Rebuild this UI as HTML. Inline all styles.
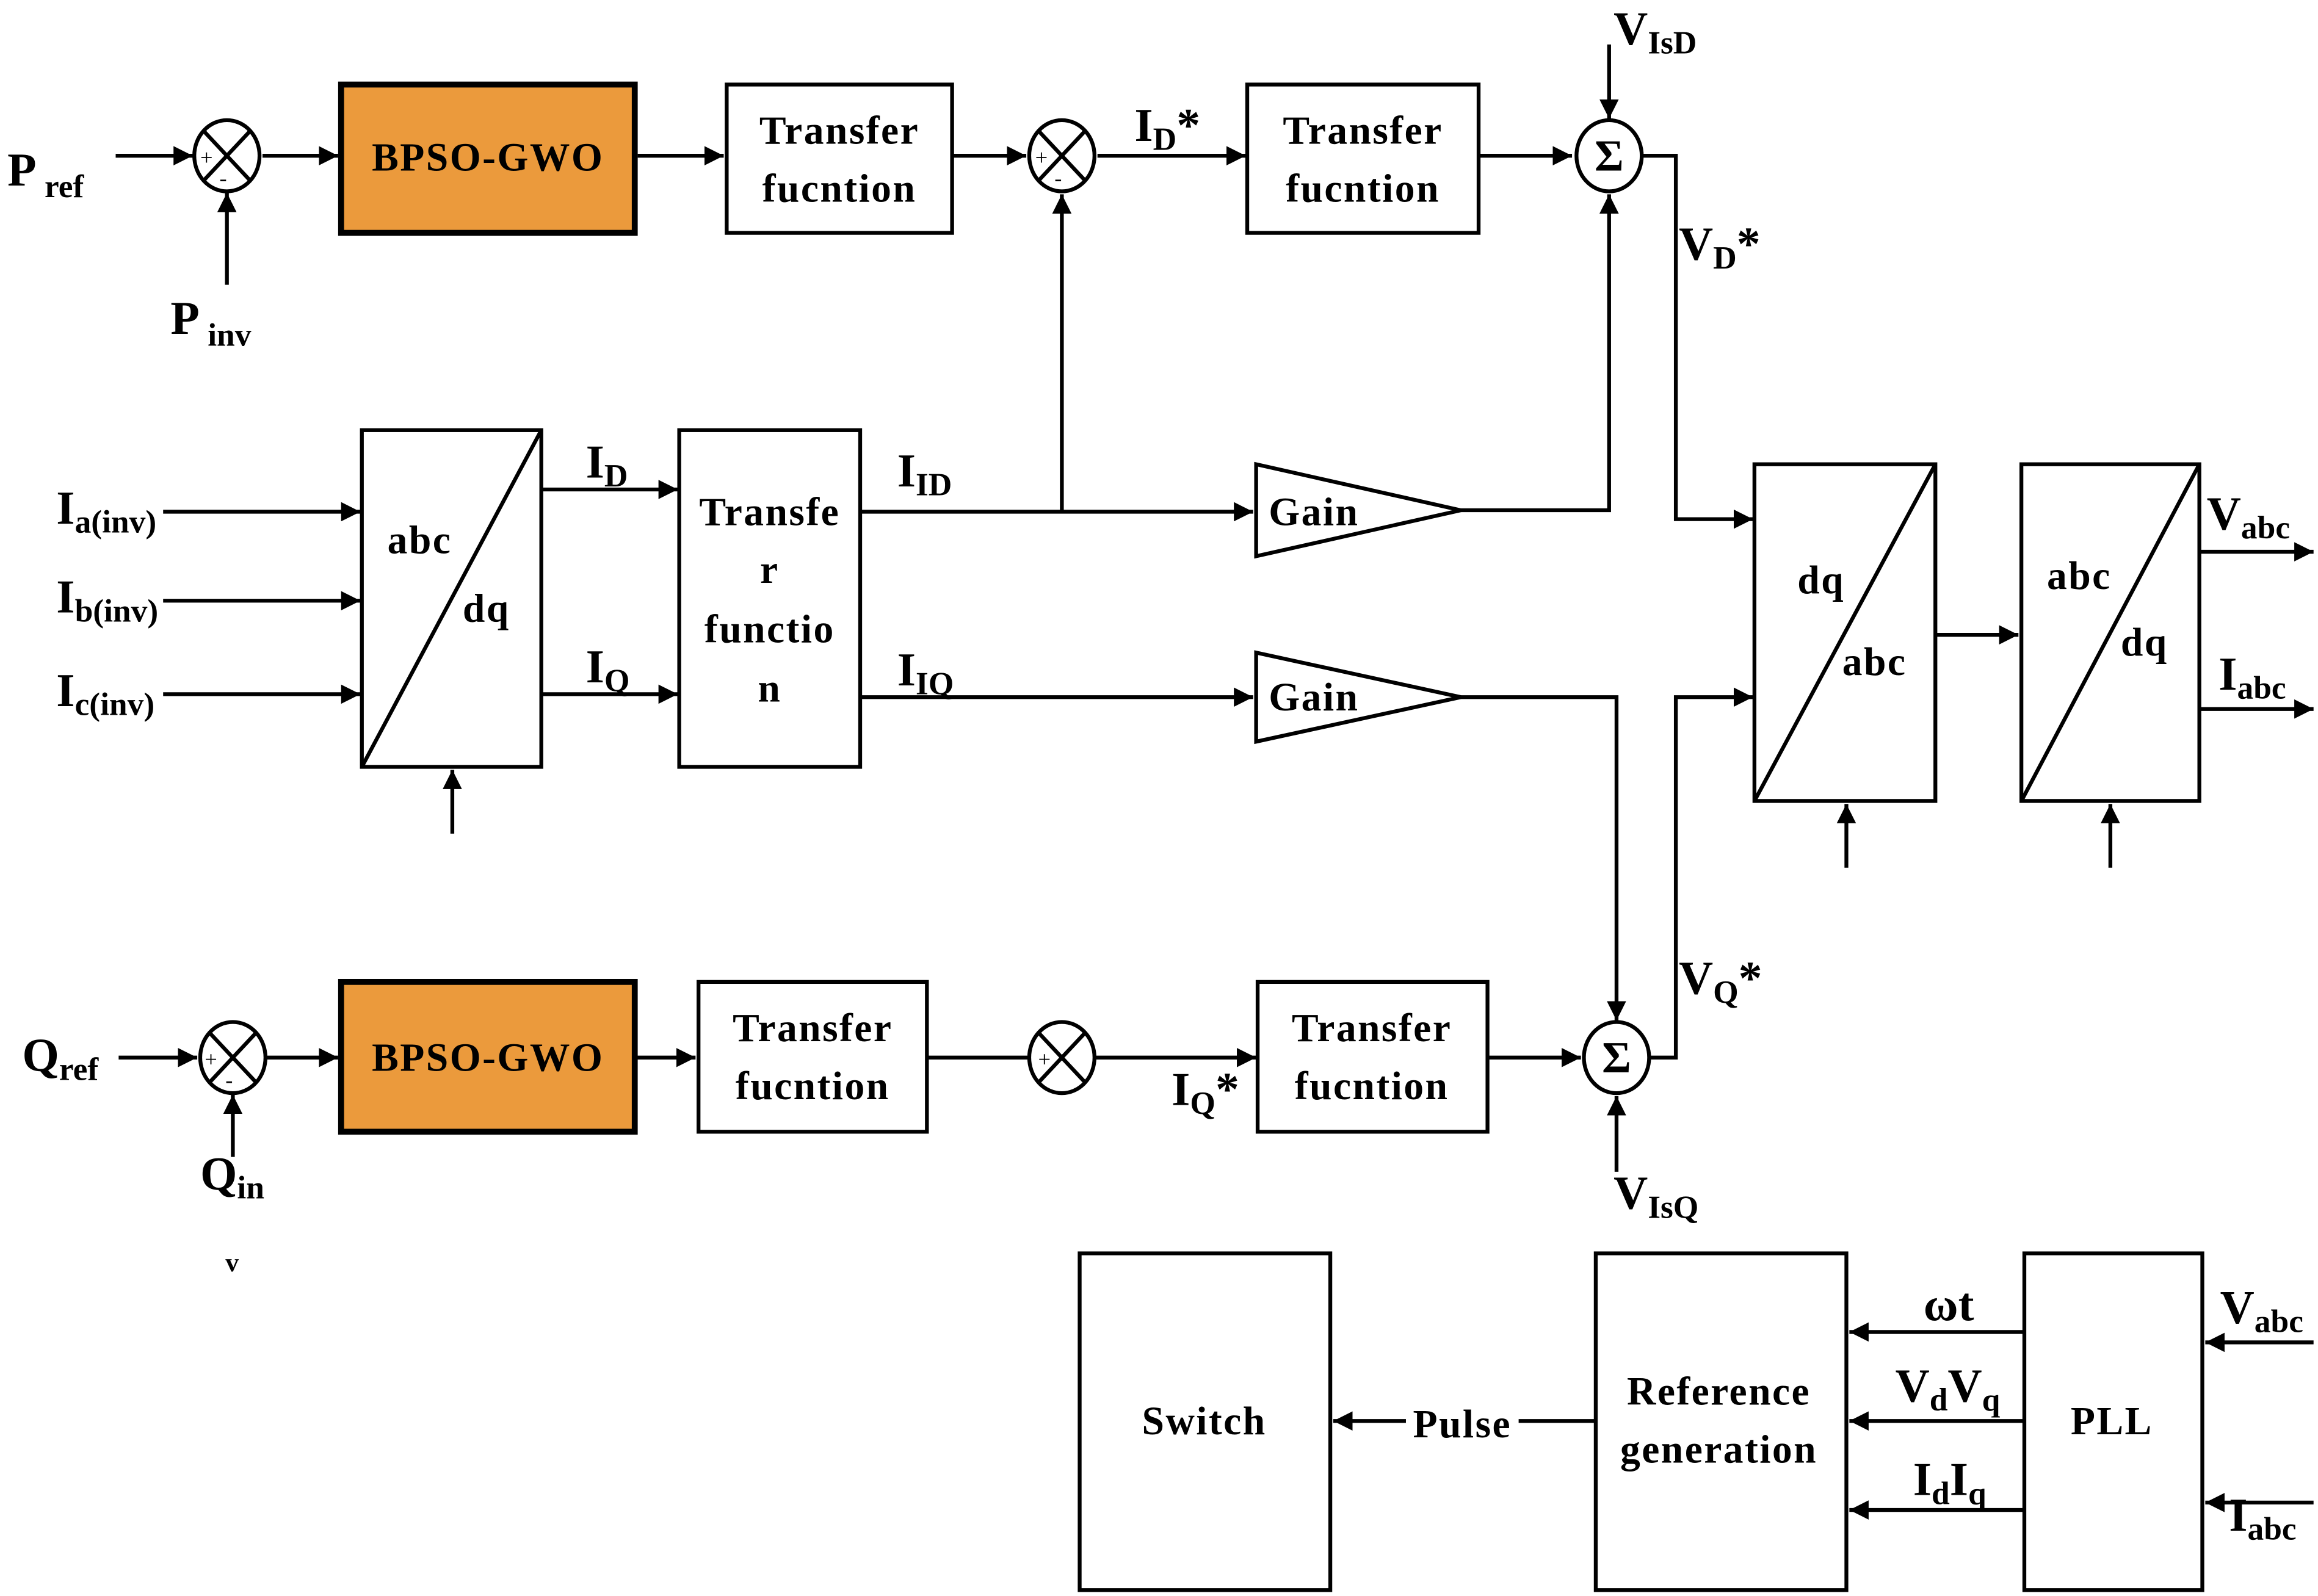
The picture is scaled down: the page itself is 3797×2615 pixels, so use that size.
<!DOCTYPE html>
<html><head><meta charset="utf-8"><style>html,body{margin:0;padding:0;background:#fff}svg{display:block}</style></head>
<body>
<svg width="3797" height="2615" viewBox="0 0 1563 1076" preserveAspectRatio="none" xmlns="http://www.w3.org/2000/svg" font-family="'Liberation Serif',serif" font-weight="bold">
<defs><marker id="a" viewBox="0 0 10 10" refX="10" refY="5" markerWidth="5" markerHeight="5" orient="auto"><path d="M0,0L10,5L0,10z" fill="#000"/></marker></defs>
<g stroke="#000" stroke-width="2.6" fill="none">
<line x1="78" y1="105" x2="130" y2="105" marker-end="url(#a)"/>
<ellipse cx="153" cy="105" rx="22" ry="24"/><path d="M138,89L168,121M168,89L138,121"/>
<line x1="153" y1="192" x2="153" y2="130" marker-end="url(#a)"/>
<line x1="177" y1="105" x2="228" y2="105" marker-end="url(#a)"/>
<rect x="230" y="57" width="198" height="100" fill="#EB9A3C" stroke-width="4"/>
<line x1="430" y1="105" x2="488" y2="105" marker-end="url(#a)"/>
<rect x="490" y="57" width="152" height="100"/>
<line x1="642" y1="105" x2="692" y2="105" marker-end="url(#a)"/>
<ellipse cx="716" cy="105" rx="22" ry="24"/><path d="M701,89L731,121M731,89L701,121"/>
<line x1="716" y1="345" x2="716" y2="131" marker-end="url(#a)"/>
<line x1="740" y1="105" x2="840" y2="105" marker-end="url(#a)"/>
<rect x="841" y="57" width="156" height="100"/>
<line x1="997" y1="105" x2="1060" y2="105" marker-end="url(#a)"/>
<ellipse cx="1085" cy="105" rx="22" ry="24"/>
<line x1="1085" y1="30" x2="1085" y2="80" marker-end="url(#a)"/>
<polyline points="985,344 1085,344 1085,131" marker-end="url(#a)"/>
<polyline points="1108,105 1130,105 1130,350 1182,350" marker-end="url(#a)"/>
<rect x="244" y="290" width="121" height="227"/><line x1="244" y1="517" x2="365" y2="290"/>
<line x1="110" y1="345" x2="243" y2="345" marker-end="url(#a)"/>
<line x1="110" y1="405" x2="243" y2="405" marker-end="url(#a)"/>
<line x1="110" y1="468" x2="243" y2="468" marker-end="url(#a)"/>
<line x1="305" y1="562" x2="305" y2="519" marker-end="url(#a)"/>
<line x1="365" y1="330" x2="457" y2="330" marker-end="url(#a)"/>
<line x1="365" y1="468" x2="457" y2="468" marker-end="url(#a)"/>
<rect x="458" y="290" width="122" height="227"/>
<line x1="580" y1="345" x2="845" y2="345" marker-end="url(#a)"/>
<line x1="580" y1="470" x2="845" y2="470" marker-end="url(#a)"/>
<polygon points="847,313 847,375 985,344"/>
<polygon points="847,440 847,500 985,470"/>
<polyline points="985,470 1090,470 1090,688" marker-end="url(#a)"/>
<rect x="1183" y="313" width="122" height="227"/><line x1="1183" y1="540" x2="1305" y2="313"/>
<line x1="1245" y1="585" x2="1245" y2="542" marker-end="url(#a)"/>
<line x1="1305" y1="428" x2="1361" y2="428" marker-end="url(#a)"/>
<rect x="1363" y="313" width="120" height="227"/><line x1="1363" y1="540" x2="1483" y2="313"/>
<line x1="1423" y1="585" x2="1423" y2="542" marker-end="url(#a)"/>
<line x1="1483" y1="372" x2="1560" y2="372" marker-end="url(#a)"/>
<line x1="1483" y1="478" x2="1560" y2="478" marker-end="url(#a)"/>
<line x1="80" y1="713" x2="133" y2="713" marker-end="url(#a)"/>
<ellipse cx="157" cy="713" rx="22" ry="24"/><path d="M142,697L172,729M172,697L142,729"/>
<line x1="157" y1="780" x2="157" y2="738" marker-end="url(#a)"/>
<line x1="180" y1="713" x2="228" y2="713" marker-end="url(#a)"/>
<rect x="230" y="662" width="198" height="101" fill="#EB9A3C" stroke-width="4"/>
<line x1="428" y1="713" x2="469" y2="713" marker-end="url(#a)"/>
<rect x="471" y="662" width="154" height="101"/>
<line x1="625" y1="713" x2="693" y2="713"/>
<ellipse cx="716" cy="713" rx="22" ry="24"/><path d="M701,697L731,729M731,697L701,729"/>
<line x1="739" y1="713" x2="847" y2="713" marker-end="url(#a)"/>
<rect x="848" y="662" width="155" height="101"/>
<line x1="1003" y1="713" x2="1066" y2="713" marker-end="url(#a)"/>
<ellipse cx="1090" cy="713" rx="22" ry="24"/>
<line x1="1090" y1="790" x2="1090" y2="739" marker-end="url(#a)"/>
<polyline points="1113,713 1130,713 1130,470 1182,470" marker-end="url(#a)"/>
<rect x="728" y="845" width="169" height="227"/>
<rect x="1076" y="845" width="169" height="227"/>
<rect x="1365" y="845" width="120" height="227"/>
<line x1="1365" y1="898" x2="1247" y2="898" marker-end="url(#a)"/>
<line x1="1365" y1="958" x2="1247" y2="958" marker-end="url(#a)"/>
<line x1="1365" y1="1018" x2="1247" y2="1018" marker-end="url(#a)"/>
<line x1="1076" y1="958" x2="1024" y2="958"/>
<line x1="948" y1="958" x2="899" y2="958" marker-end="url(#a)"/>
<line x1="1560" y1="905" x2="1487" y2="905" marker-end="url(#a)"/>
<line x1="1560" y1="1013" x2="1487" y2="1013" marker-end="url(#a)"/>
</g>
<g font-size="15" font-weight="normal"><text x="135" y="111">+</text><text x="148" y="125">-</text><text x="698" y="111">+</text><text x="711" y="125">-</text><text x="138" y="719">+</text><text x="152" y="733">-</text><text x="700" y="719">+</text></g>
<g font-size="30" text-anchor="middle"><text x="1085" y="115">Σ</text><text x="1090" y="723">Σ</text></g>
<g font-size="27" text-anchor="middle" letter-spacing="1">
<text x="566" y="97">Transfer</text><text x="566" y="136">fucntion</text>
<text x="329" y="115">BPSO-GWO</text><text x="329" y="722">BPSO-GWO</text>
<text x="919" y="97">Transfer</text><text x="919" y="136">fucntion</text>
<text x="548" y="702">Transfer</text><text x="548" y="741">fucntion</text>
<text x="925" y="702">Transfer</text><text x="925" y="741">fucntion</text>
<text x="519" y="354">Transfe</text><text x="519" y="393">r</text><text x="519" y="433">functio</text><text x="519" y="473">n</text>
<text x="1159" y="947">Reference</text><text x="1159" y="986">generation</text>
<text x="812" y="967">Switch</text><text x="1424" y="967">PLL</text>
<text x="986" y="969">Pulse</text>
<text x="886" y="354">Gain</text><text x="886" y="479">Gain</text>
<text x="283" y="373">abc</text><text x="328" y="419">dq</text>
<text x="1228" y="400">dq</text><text x="1264" y="455">abc</text>
<text x="1402" y="397">abc</text><text x="1446" y="442">dq</text>
</g>
<g font-size="32">
<text x="5" y="125">P<tspan font-size="22" dy="8"> ref</tspan></text>
<text x="115" y="225">P<tspan font-size="22" dy="8"> inv</tspan></text>
<text x="15" y="722">Q<tspan font-size="22" dy="6">ref</tspan></text>
<text x="135" y="802">Q<tspan font-size="22" dy="6">in</tspan></text>
<text x="152" y="857" font-size="18">v</text>
<text x="38" y="353">I<tspan font-size="22" dy="6">a(inv)</tspan></text>
<text x="38" y="413">I<tspan font-size="22" dy="6">b(inv)</tspan></text>
<text x="38" y="476">I<tspan font-size="22" dy="6">c(inv)</tspan></text>
<text x="395" y="322">I<tspan font-size="22" dy="6">D</tspan></text>
<text x="395" y="460">I<tspan font-size="22" dy="6">Q</tspan></text>
<text x="605" y="328">I<tspan font-size="22" dy="6">ID</tspan></text>
<text x="605" y="462">I<tspan font-size="22" dy="6">IQ</tspan></text>
<text x="765" y="95">I<tspan font-size="22" dy="6">D</tspan><tspan dy="-6">*</tspan></text>
<text x="790" y="745">I<tspan font-size="22" dy="6">Q</tspan><tspan dy="-6">*</tspan></text>
<text x="1088" y="30">V<tspan font-size="22" dy="6">IsD</tspan></text>
<text x="1088" y="815">V<tspan font-size="22" dy="6">IsQ</tspan></text>
<text x="1132" y="175">V<tspan font-size="22" dy="6">D</tspan><tspan dy="-6">*</tspan></text>
<text x="1132" y="670">V<tspan font-size="22" dy="6">Q</tspan><tspan dy="-6">*</tspan></text>
<text x="1488" y="357">V<tspan font-size="22" dy="6">abc</tspan></text>
<text x="1496" y="465">I<tspan font-size="22" dy="6">abc</tspan></text>
<text x="1497" y="892">V<tspan font-size="22" dy="6">abc</tspan></text>
<text x="1503" y="1032">I<tspan font-size="22" dy="6">abc</tspan></text>
<text x="1297" y="890">ωt</text>
<text x="1278" y="945">V<tspan font-size="22" dy="6">d</tspan><tspan dy="-6">V</tspan><tspan font-size="22" dy="6">q</tspan></text>
<text x="1290" y="1008">I<tspan font-size="22" dy="6">d</tspan><tspan dy="-6">I</tspan><tspan font-size="22" dy="6">q</tspan></text>
</g>
</svg>
</body></html>
